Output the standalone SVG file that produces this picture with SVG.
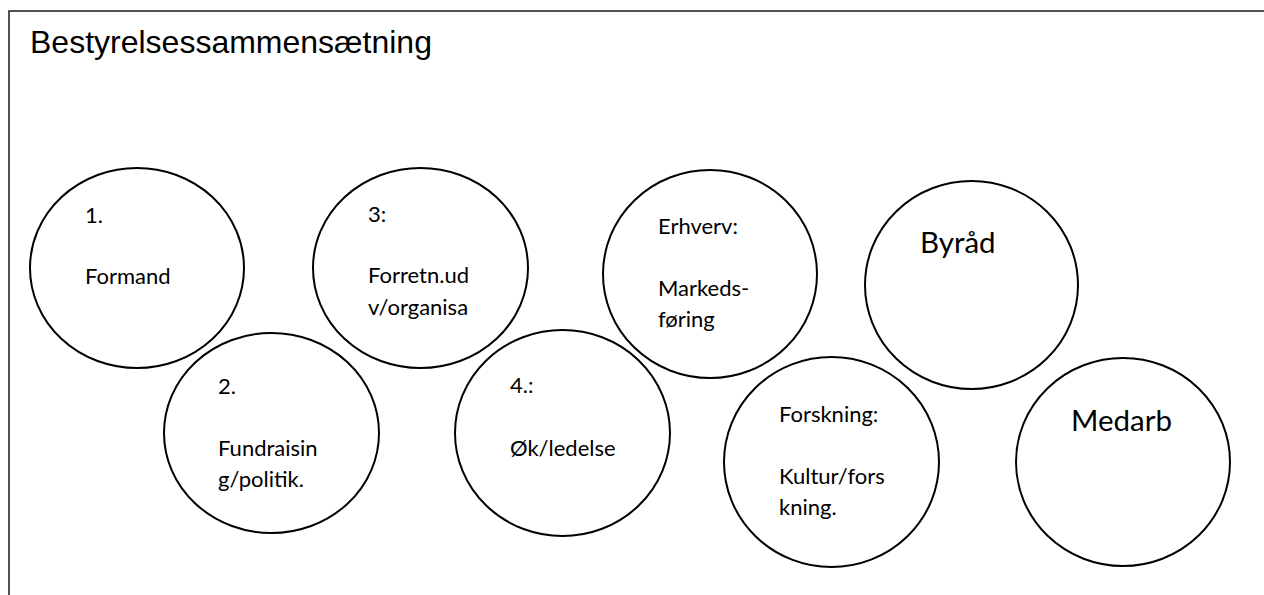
<svg xmlns="http://www.w3.org/2000/svg" width="1264" height="595" viewBox="0 0 1264 595">
<style>
.frame{fill:none;stroke:#1a1a1a;stroke-width:1.5}
.node{fill:#ffffff;stroke:#000000;stroke-width:2}
.title{font-family:"Liberation Sans",Arial,sans-serif;font-size:32px;fill:#000}
.t{font-family:Lato,"Open Sans",sans-serif;font-size:22px;fill:#000}
.big{font-family:Lato,"Open Sans",sans-serif;font-size:29.5px;fill:#000}
</style>
<rect width="1264" height="595" fill="#ffffff"/>
<path class="frame" d="M9,600 V11 H1270"/>
<text class="title" x="30" y="53">Bestyrelsessammensætning</text>
<g id="connectors"></g>
<g id="node-formand">
<ellipse class="node" cx="137" cy="268" rx="107" ry="100"/>
<text class="t" x="85" y="223">1.</text>
<text class="t" x="85" y="284">Formand</text>
</g>
<g id="node-fundraising">
<ellipse class="node" cx="271.5" cy="433" rx="107.5" ry="100"/>
<text class="t" x="218" y="394">2.</text>
<text class="t" x="218" y="456">Fundraisin</text>
<text class="t" x="218" y="487">g/politik.</text>
</g>
<g id="node-forretning">
<ellipse class="node" cx="420.5" cy="268" rx="107.5" ry="100"/>
<text class="t" x="368" y="222">3:</text>
<text class="t" x="368" y="283">Forretn.ud</text>
<text class="t" x="368" y="315">v/organisa</text>
</g>
<g id="node-oekonomi">
<ellipse class="node" cx="562.5" cy="433" rx="107.5" ry="103"/>
<text class="t" x="510" y="393">4.:</text>
<text class="t" x="510" y="456">Øk/ledelse</text>
</g>
<g id="node-erhverv">
<ellipse class="node" cx="710" cy="274" rx="107" ry="104"/>
<text class="t" x="658" y="234">Erhverv:</text>
<text class="t" x="658" y="296">Markeds-</text>
<text class="t" x="658" y="327">føring</text>
</g>
<g id="node-forskning">
<ellipse class="node" cx="831.5" cy="462" rx="107.5" ry="105"/>
<text class="t" x="779" y="422">Forskning:</text>
<text class="t" x="779" y="484">Kultur/fors</text>
<text class="t" x="779" y="515">kning.</text>
</g>
<g id="node-byraad">
<ellipse class="node" cx="971.5" cy="285" rx="106.5" ry="104"/>
<text class="big" x="920" y="253">Byråd</text>
</g>
<g id="node-medarb">
<ellipse class="node" cx="1123" cy="462" rx="107" ry="104"/>
<text class="big" x="1071" y="431">Medarb</text>
</g>
</svg>
